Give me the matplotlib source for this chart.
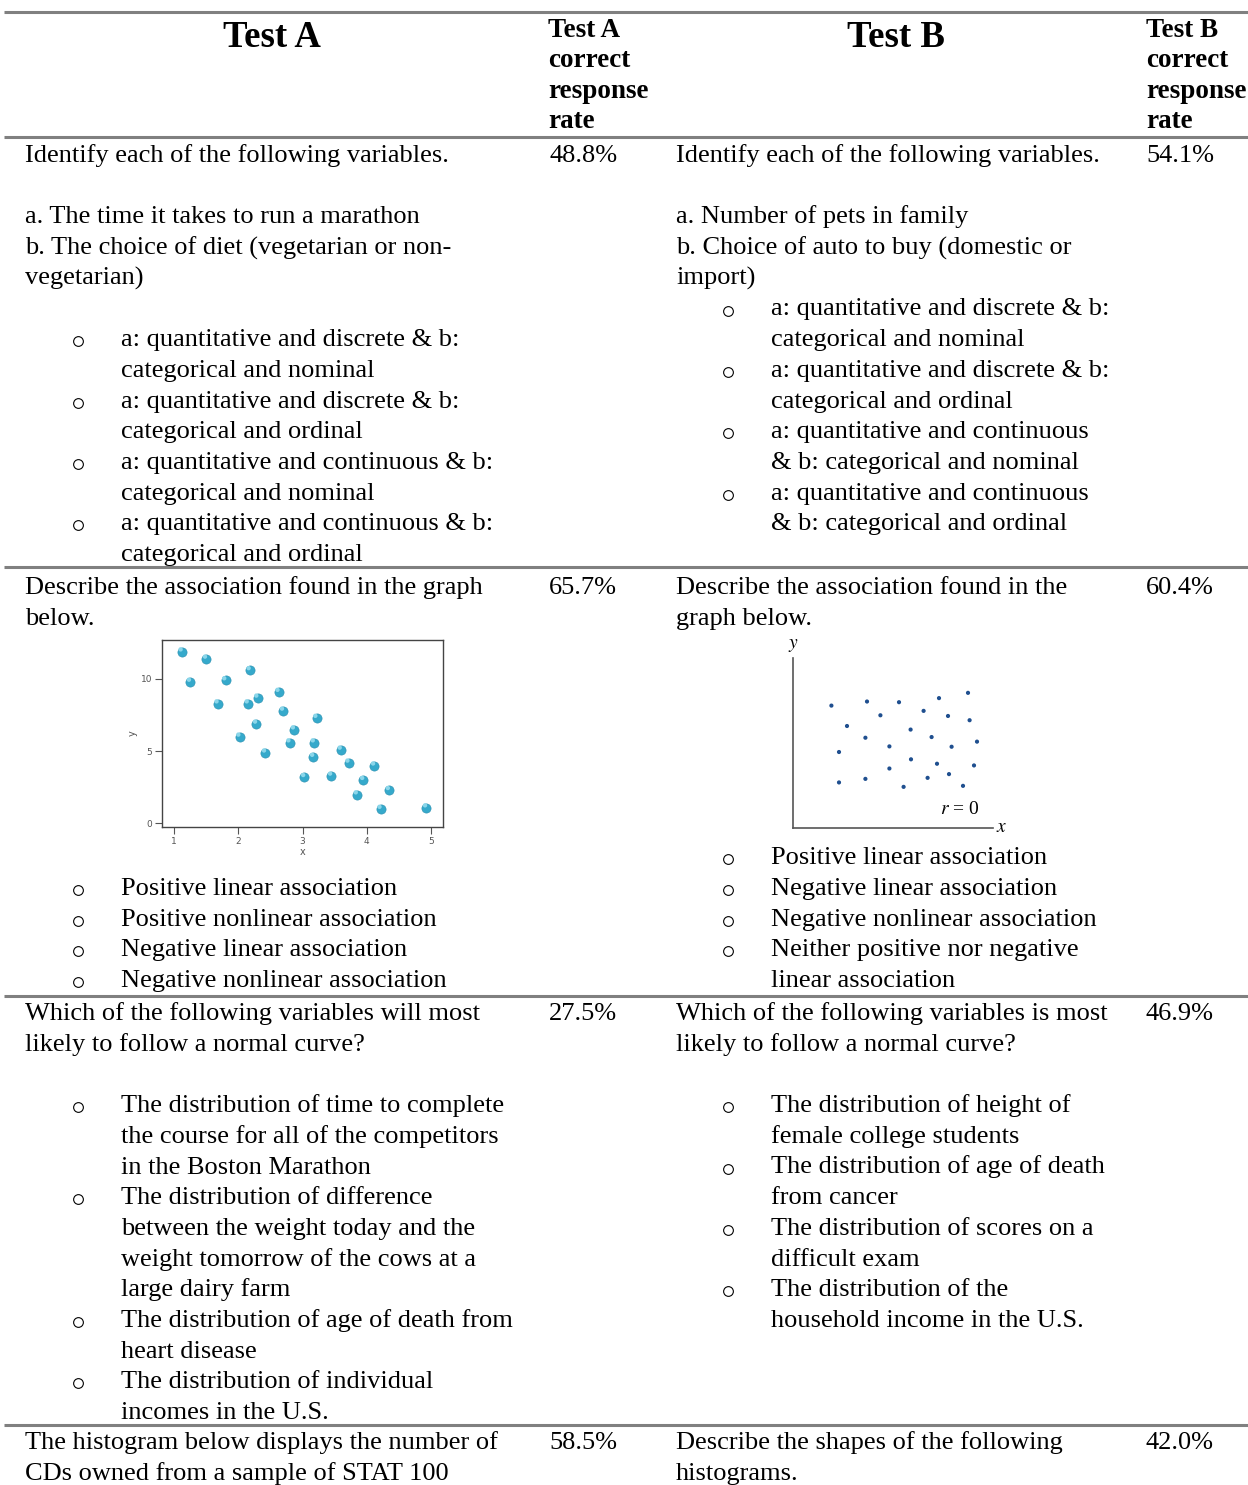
import matplotlib.pyplot as plt
import numpy as np

plt.rcParams['font.family'] = ['Liberation Serif', 'DejaVu Serif']
plt.rcParams['mathtext.fontset'] = 'stix'

# Kolumny nagłówka
headers = ["Test A", "Test B"]
rate_header = ["correct", "response", "rate"]

# Wskaźniki poprawnych odpowiedzi (wiersze 1-4)
rates_a = ["48.8%", "65.7%", "27.5%", "58.5%"]
rates_b = ["54.1%", "60.4%", "46.9%", "42.0%"]

# Treść pytań - Test A
intro_a = [
    ["Identify each of the following variables.", "",
     "a. The time it takes to run a marathon",
     "b. The choice of diet (vegetarian or non-", "vegetarian)", ""],
    ["Describe the association found in the graph", "below."],
    ["Which of the following variables will most",
     "likely to follow a normal curve?", ""],
    ["The histogram below displays the number of",
     "CDs owned from a sample of STAT 100"],
]
options_a = [
    [["a: quantitative and discrete & b:", "categorical and nominal"],
     ["a: quantitative and discrete & b:", "categorical and ordinal"],
     ["a: quantitative and continuous & b:", "categorical and nominal"],
     ["a: quantitative and continuous & b:", "categorical and ordinal"]],
    [["Positive linear association"],
     ["Positive nonlinear association"],
     ["Negative linear association"],
     ["Negative nonlinear association"]],
    [["The distribution of time to complete",
      "the course for all of the competitors", "in the Boston Marathon"],
     ["The distribution of difference", "between the weight today and the",
      "weight tomorrow of the cows at a", "large dairy farm"],
     ["The distribution of age of death from", "heart disease"],
     ["The distribution of individual", "incomes in the U.S."]],
    [],
]

# Treść pytań - Test B
intro_b = [
    ["Identify each of the following variables.", "",
     "a. Number of pets in family",
     "b. Choice of auto to buy (domestic or", "import)"],
    ["Describe the association found in the", "graph below."],
    ["Which of the following variables is most",
     "likely to follow a normal curve?", ""],
    ["Describe the shapes of the following", "histograms."],
]
options_b = [
    [["a: quantitative and discrete & b:", "categorical and nominal"],
     ["a: quantitative and discrete & b:", "categorical and ordinal"],
     ["a: quantitative and continuous", "& b: categorical and nominal"],
     ["a: quantitative and continuous", "& b: categorical and ordinal"]],
    [["Positive linear association"],
     ["Negative linear association"],
     ["Negative nonlinear association"],
     ["Neither positive nor negative", "linear association"]],
    [["The distribution of height of", "female college students"],
     ["The distribution of age of death", "from cancer"],
     ["The distribution of scores on a", "difficult exam"],
     ["The distribution of the", "household income in the U.S."]],
    [],
]

# Wykres rozrzutu - Test A (ujemna zależność liniowa)
sa_x = [1.12, 1.25, 1.50, 1.68, 1.80, 2.02, 2.15, 2.18, 2.28, 2.30, 2.42, 2.63, 2.70, 2.80,
        2.87, 3.03, 3.17, 3.18, 3.22, 3.45, 3.60, 3.72, 3.85, 3.95, 4.12, 4.22, 4.35, 4.93]
sa_y = [11.9, 9.8, 11.4, 8.3, 9.9, 6.0, 8.3, 10.6, 6.9, 8.7, 4.9, 9.1, 7.8, 5.6,
        6.5, 3.2, 4.6, 5.6, 7.3, 3.3, 5.1, 4.2, 2.0, 3.0, 4.0, 1.0, 2.3, 1.1]

# Wykres rozrzutu - Test B (r = 0)
sb_x = [1.92, 3.70, 5.30, 7.30, 8.75, 4.37, 6.53, 7.75, 8.83, 2.70, 5.88, 3.62, 6.93, 9.20,
        4.82, 7.93, 2.30, 5.90, 7.20, 9.05, 4.82, 2.30, 3.62, 6.73, 7.80, 5.53, 8.50]
sb_y = [7.20, 7.44, 7.40, 7.64, 7.95, 6.63, 6.89, 6.59, 6.34, 6.00, 5.79, 5.31, 5.35, 5.08,
        4.80, 4.78, 4.47, 4.04, 3.78, 3.68, 3.50, 2.68, 2.89, 2.95, 3.17, 2.42, 2.48]

W, H = 1248, 1485
LINE = 30.7
FS = 19.0
row_y = [154, 586, 1012, 1441]
rules_y = [12, 137, 567, 996, 1425]
opt_start_a = [None, 9.8, None, None]
opt_start_b = [None, 8.8, None, None]

fig = plt.figure(figsize=(W / 100, H / 100), dpi=100)
ax = fig.add_axes([0, 0, 1, 1])
ax.set_xlim(0, W)
ax.set_ylim(H, 0)
ax.axis('off')


def txt(x, y, s, **kw):
    # y = środek linii tekstu, przesunięty do linii bazowej
    ax.text(x, y + 8, s, fontsize=kw.pop('fontsize', FS), va='baseline', **kw)


def draw_cell(x_text, x_opt, y0, intro, options, start):
    for i, line in enumerate(intro):
        if line:
            txt(x_text, y0 + i * LINE, line)
    k = start if start is not None else len(intro)
    for opt in options:
        # punktor "o" - pusty okrąg na linii bazowej
        ax.plot([x_opt - 43], [y0 + k * LINE + 3], marker='o', ms=7.0,
                mfc='none', mec='black', mew=0.8, ls='none')
        for line in opt:
            txt(x_opt, y0 + k * LINE, line)
            k += 1


# linie poziome
for y in rules_y:
    ax.plot([4, W], [y, y], color='#808080', lw=2.2, solid_capstyle='butt')

# nagłówek
ax.text(272, 47, headers[0], fontsize=26.5, weight='bold', ha='center', va='baseline')
ax.text(896, 47, headers[1], fontsize=26.5, weight='bold', ha='center', va='baseline')
for x, h in [(548, headers[0]), (1146, headers[1])]:
    for i, line in enumerate([h] + rate_header):
        ax.text(x, 36.7 + i * 30.4, line, fontsize=19.5, weight='bold', va='baseline')

# wiersze
for r in range(4):
    y0 = row_y[r]
    draw_cell(25, 121, y0, intro_a[r], options_a[r], opt_start_a[r])
    draw_cell(676, 771, y0, intro_b[r], options_b[r], opt_start_b[r])
    txt(549, y0, rates_a[r])
    txt(1146, y0, rates_b[r])


def px_axes(left, top, right, bottom):
    return fig.add_axes([left / W, 1 - bottom / H, (right - left) / W, (bottom - top) / H])


# wykres A
a1 = px_axes(162, 640, 443, 827)
a1.scatter(sa_x, sa_y, s=44, color='#35a9cb', edgecolors='#2a8fb0', linewidths=0.4, zorder=3)
a1.scatter(np.array(sa_x) - 0.02, np.array(sa_y) + 0.15, s=10, color='#8ad6ea',
           edgecolors='none', zorder=4)
a1.set_xlim(0.81, 5.19)
a1.set_ylim(-0.25, 12.7)
a1.set_xticks([1, 2, 3, 4, 5])
a1.set_yticks([0, 5, 10])
a1.tick_params(labelsize=6.5, colors='#555555', length=5, width=0.8, pad=2)
for sp in a1.spines.values():
    sp.set_color('#444444')
    sp.set_linewidth(1.0)
a1.set_xlabel('x', fontsize=7, color='#555555', family='DejaVu Sans', labelpad=1)
a1.set_ylabel('y', fontsize=7, color='#555555', family='DejaVu Sans', labelpad=2)
for lab in a1.get_xticklabels() + a1.get_yticklabels():
    lab.set_family('DejaVu Sans')

# wykres B
a2 = px_axes(793, 658, 993, 828)
a2.scatter(sb_x, sb_y, s=9, color='#1f4f8f', edgecolors='none')
a2.set_xlim(0, 10)
a2.set_ylim(0, 10)
a2.set_xticks([])
a2.set_yticks([])
a2.spines['top'].set_visible(False)
a2.spines['right'].set_visible(False)
for sp in ['left', 'bottom']:
    a2.spines[sp].set_color('#555555')
    a2.spines[sp].set_linewidth(1.2)
a2.patch.set_alpha(0)
a2.text(0.835, 0.11, r'$r$ = 0', transform=a2.transAxes, fontsize=14, ha='center', va='center')
ax.text(793, 645, r'$y$', fontsize=14, ha='center', va='center')
ax.text(1002, 828, r'$x$', fontsize=14, ha='center', va='center')

fig.savefig('out.png', dpi=100)
